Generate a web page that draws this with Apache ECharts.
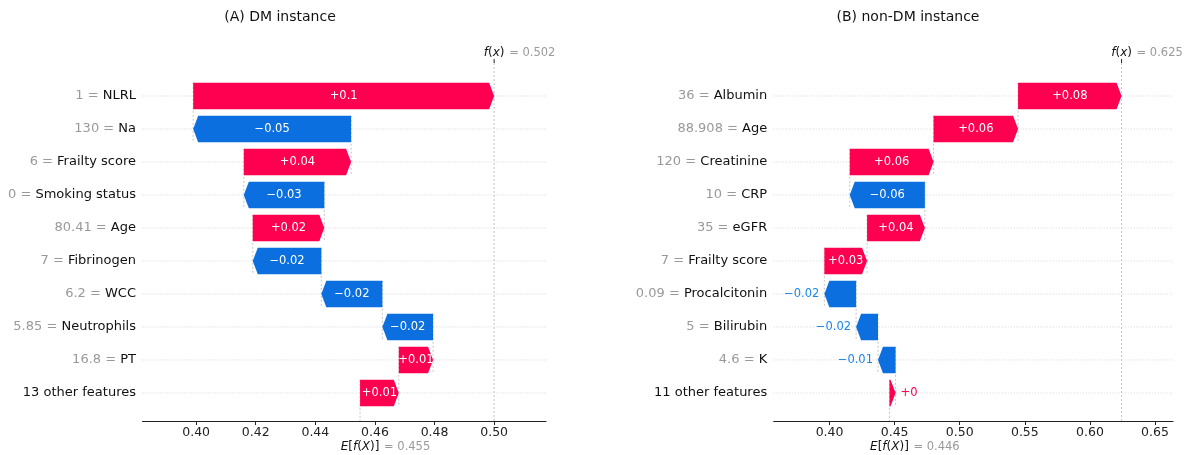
<!DOCTYPE html>
<html><head><meta charset="utf-8">
<script src="https://cdn.jsdelivr.net/npm/echarts@6/dist/echarts.min.js"></script>
<style>html,body{margin:0;padding:0;background:#fff}#c{width:1189px;height:455px}</style>
</head><body><div id="c"></div>
<script>
// ---------- Panel A : DM instance ----------
const titleA = '(A) DM instance';
const featValA = ['1', '130', '6', '0', '80.41', '7', '6.2', '5.85', '16.8', ''];
const featNameA = ['NLRL', 'Na', 'Frailty score', 'Smoking status', 'Age', 'Fibrinogen', 'WCC', 'Neutrophils', 'PT', '13 other features'];
const shapA = [0.101, -0.053, 0.036, -0.027, 0.024, -0.023, -0.0205, -0.017, 0.0115, 0.013];
const baseA = 0.455;
const baseTextA = '0.455';
const fxTextA = '0.502';
const ticksA = [0.40, 0.42, 0.44, 0.46, 0.48, 0.50];
const xRangeA = [0.382, 0.5174];

// ---------- Panel B : non-DM instance ----------
const titleB = '(B) non-DM instance';
const featValB = ['36', '88.908', '120', '10', '35', '7', '0.09', '5', '4.6', ''];
const featNameB = ['Albumin', 'Age', 'Creatinine', 'CRP', 'eGFR', 'Frailty score', 'Procalcitonin', 'Bilirubin', 'K', '11 other features'];
const shapB = [0.0795, 0.0649, 0.0644, -0.0577, 0.0444, 0.0328, -0.0244, -0.0168, -0.0135, 0.0047];
const baseB = 0.446;
const baseTextB = '0.446';
const fxTextB = '0.625';
const ticksB = [0.40, 0.45, 0.50, 0.55, 0.60, 0.65];
const xRangeB = [0.3571, 0.6638];

// ---------- styling ----------
const RED = '#ff0051';
const BLUE = '#0b6fe0';
const BLUE_TXT = '#1a86ee';
const FONT = 'DejaVu Sans';
const HEAD = 5;
const NROW = 10;
const Y_MIN = -0.85, Y_MAX = 10;

const _ctx = document.createElement('canvas').getContext('2d');
_ctx.font = '11.5px "DejaVu Sans"';
function measure(t) { return _ctx.measureText(t).width; }

function fmt(v) {
  let s = Math.abs(v).toFixed(2).replace(/0+$/, '').replace(/\.$/, '');
  return (v >= 0 ? '+' : '\u2212') + s;
}

function waterfall(vals, base) {
  const n = vals.length, starts = [], ends = [];
  let cur = base;
  for (let i = n - 1; i >= 0; i--) { starts[i] = cur; cur += vals[i]; ends[i] = cur; }
  return { starts, ends, fx: cur };
}

const wA = waterfall(shapA, baseA);
const wB = waterfall(shapB, baseB);

function renderBar(params, api) {
  const i = api.value(0), s = api.value(1), e = api.value(2), v = api.value(3);
  const y = NROW - 1 - i;
  const p0 = api.coord([s, y]), p1 = api.coord([e, y]);
  const h = api.size([0, 0.8])[1];
  const yc = p0[1], top = yc - h / 2, bot = yc + h / 2;
  const pos = v >= 0;
  const len = Math.abs(p1[0] - p0[0]);
  const head = Math.min(HEAD, len);
  const xb = pos ? p1[0] - head : p1[0] + head;
  const pts = [[p0[0], top], [xb, top], [p1[0], yc], [xb, bot], [p0[0], bot]];
  const txt = fmt(v);
  const inside = measure(txt) <= len + 2;
  const children = [{ type: 'polygon', shape: { points: pts }, style: { fill: pos ? RED : BLUE } }];
  if (inside) {
    children.push({ type: 'text', style: { text: txt, x: (p0[0] + p1[0]) / 2, y: yc, align: 'center', verticalAlign: 'middle', fill: '#fff', fontSize: 11.5, fontFamily: FONT } });
  } else {
    children.push({ type: 'text', style: { text: txt, x: pos ? p1[0] + 5 : p1[0] - 5, y: yc, align: pos ? 'left' : 'right', verticalAlign: 'middle', fill: pos ? RED : BLUE_TXT, fontSize: 11.5, fontFamily: FONT } });
  }
  return { type: 'group', children };
}

function renderGuide(params, api) {
  const cs = params.coordSys;
  const i = api.value(0), s = api.value(1);
  const y = NROW - 1 - i;
  const pc = api.coord([s, y]);
  const pTop = api.coord([s, y + 0.4]);
  const pBot = api.coord([s, Math.max(y - 1.4, Y_MIN)]);
  return {
    type: 'group', children: [
      { type: 'line', shape: { x1: cs.x, y1: pc[1], x2: cs.x + cs.width, y2: pc[1] }, style: { stroke: '#d2d2d2', lineWidth: 1, lineDash: [1, 2] } },
      { type: 'line', shape: { x1: pc[0], y1: pTop[1], x2: pc[0], y2: pBot[1] }, style: { stroke: '#c4c4c4', lineWidth: 1, lineDash: [2, 2] } }
    ]
  };
}

function makeRenderMarker(baseText, fxText) {
  return function (params, api) {
    const fx = api.value(0), base = api.value(1);
    const pf = api.coord([fx, Y_MAX]);
    const pfb = api.coord([fx, Y_MIN]);
    const pb = api.coord([base, Y_MIN]);
    const richBlack = {
      i: { fontStyle: 'italic', fontFamily: FONT, fontSize: 12, fill: '#111', color: '#111' },
      n: { fontFamily: FONT, fontSize: 12, fill: '#111', color: '#111' }
    };
    return {
      type: 'group', children: [
        { type: 'line', shape: { x1: pf[0], y1: pf[1], x2: pfb[0], y2: pfb[1] }, style: { stroke: '#c4c4c4', lineWidth: 1, lineDash: [2, 2] } },
        { type: 'line', shape: { x1: pf[0], y1: pf[1], x2: pf[0], y2: pf[1] - 4 }, style: { stroke: '#222', lineWidth: 1 } },
        { type: 'text', style: { text: '{i|f}{n|(}{i|x}{n|)}', rich: richBlack, x: pf[0], y: pf[1] - 10, align: 'center', verticalAlign: 'middle', fontFamily: FONT, fontSize: 12 } },
        { type: 'text', style: { text: '= ' + fxText, x: pf[0] + 15, y: pf[1] - 10, align: 'left', verticalAlign: 'middle', fill: '#9a9a9a', fontFamily: FONT, fontSize: 11.5 } },
        { type: 'text', style: { text: '{i|E}{n|[}{i|f}{n|(}{i|X}{n|)]}', rich: richBlack, x: pb[0], y: pb[1] + 26, align: 'center', verticalAlign: 'middle', fontFamily: FONT, fontSize: 12 } },
        { type: 'text', style: { text: '= ' + baseText, x: pb[0] + 24, y: pb[1] + 26, align: 'left', verticalAlign: 'middle', fill: '#9a9a9a', fontFamily: FONT, fontSize: 11.5 } }
      ]
    };
  };
}

function yLabel(vals, names) {
  return function (v) {
    const i = NROW - 1 - Math.round(v);
    if (i < 0 || i >= NROW) return '';
    if (vals[i] === '') return '{n|' + names[i] + '}';
    return '{v|' + vals[i] + ' = }{n|' + names[i] + '}';
  };
}

function xAxisCfg(idx, range, ticks) {
  return {
    type: 'value', gridIndex: idx, min: range[0], max: range[1],
    axisLine: { show: true, onZero: false, lineStyle: { color: '#222', width: 1 } },
    axisTick: { show: true, length: 4, customValues: ticks, lineStyle: { color: '#222' } },
    axisLabel: { customValues: ticks, margin: 5, color: '#222', fontFamily: FONT, fontSize: 12.5, formatter: v => v.toFixed(2) },
    splitLine: { show: false }
  };
}

function yAxisCfg(idx, vals, names) {
  return {
    type: 'value', gridIndex: idx, min: Y_MIN, max: Y_MAX,
    axisLine: { show: false }, axisTick: { show: false }, splitLine: { show: false },
    axisLabel: {
      customValues: [0, 1, 2, 3, 4, 5, 6, 7, 8, 9], margin: 6.5,
      formatter: yLabel(vals, names),
      rich: {
        v: { color: '#999', fontFamily: FONT, fontSize: 13 },
        n: { color: '#111', fontFamily: FONT, fontSize: 13 }
      }
    }
  };
}

const chart = echarts.init(document.getElementById('c'), null, { renderer: 'canvas' });
chart.setOption({
  animation: false,
  backgroundColor: '#fff',
  title: [
    { text: titleA, left: 280, top: 10, textAlign: 'center', padding: 0, textStyle: { fontFamily: FONT, fontSize: 14, fontWeight: 'normal', color: '#111' } },
    { text: titleB, left: 908, top: 10, textAlign: 'center', padding: 0, textStyle: { fontFamily: FONT, fontSize: 14, fontWeight: 'normal', color: '#111' } }
  ],
  grid: [
    { left: 142.5, right: 643, top: 63, bottom: 34 },
    { left: 773.7, right: 16, top: 63, bottom: 34 }
  ],
  xAxis: [xAxisCfg(0, xRangeA, ticksA), xAxisCfg(1, xRangeB, ticksB)],
  yAxis: [yAxisCfg(0, featValA, featNameA), yAxisCfg(1, featValB, featNameB)],
  series: [
    { type: 'custom', xAxisIndex: 0, yAxisIndex: 0, z: 1, clip: false, renderItem: renderGuide, data: shapA.map((v, i) => [i, wA.starts[i]]) },
    { type: 'custom', xAxisIndex: 1, yAxisIndex: 1, z: 1, clip: false, renderItem: renderGuide, data: shapB.map((v, i) => [i, wB.starts[i]]) },
    { type: 'custom', xAxisIndex: 0, yAxisIndex: 0, z: 1, clip: false, renderItem: makeRenderMarker(baseTextA, fxTextA), data: [[wA.fx, baseA]] },
    { type: 'custom', xAxisIndex: 1, yAxisIndex: 1, z: 1, clip: false, renderItem: makeRenderMarker(baseTextB, fxTextB), data: [[wB.fx, baseB]] },
    { type: 'custom', xAxisIndex: 0, yAxisIndex: 0, z: 3, clip: false, renderItem: renderBar, data: shapA.map((v, i) => [i, wA.starts[i], wA.ends[i], v]) },
    { type: 'custom', xAxisIndex: 1, yAxisIndex: 1, z: 3, clip: false, renderItem: renderBar, data: shapB.map((v, i) => [i, wB.starts[i], wB.ends[i], v]) }
  ]
});
</script>
</body></html>
